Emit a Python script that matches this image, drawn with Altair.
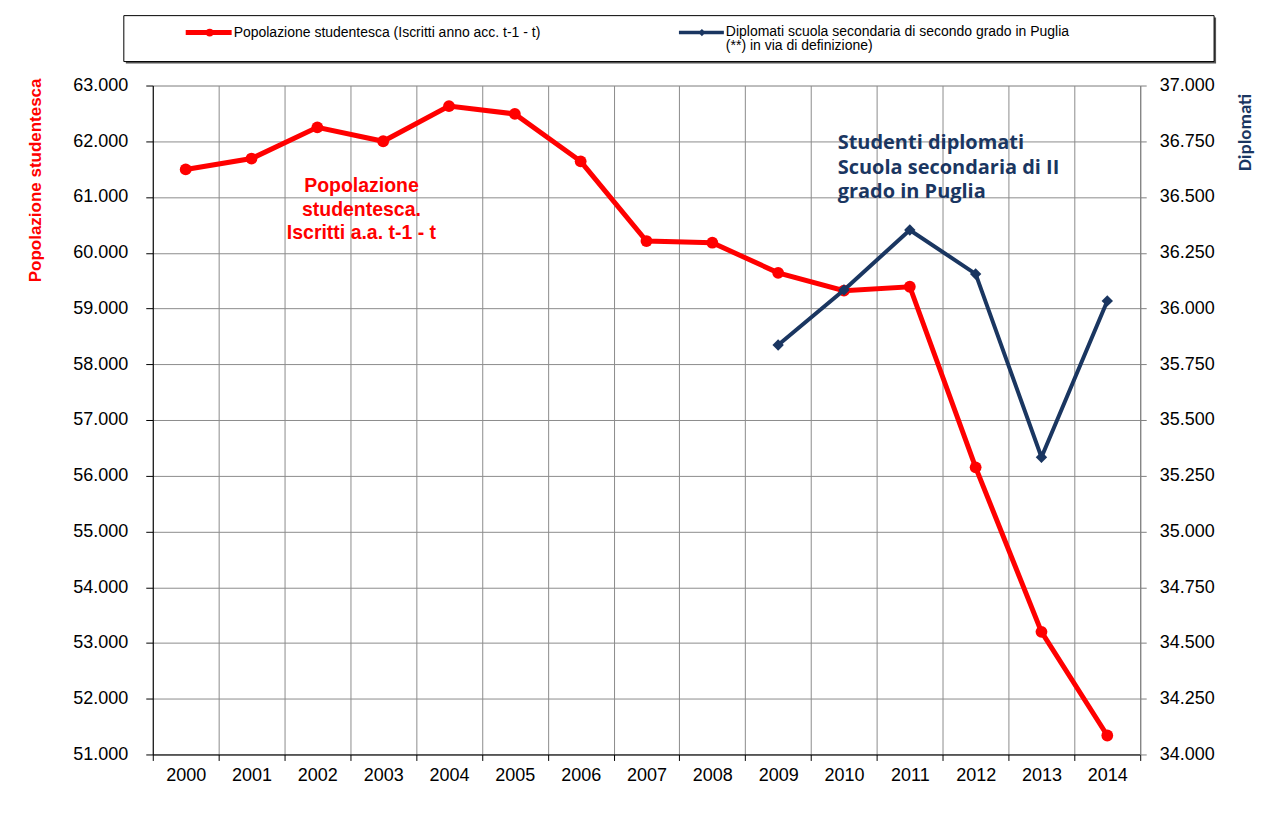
import altair as alt
import pandas as pd

# ---- data ----
anni = ["2000", "2001", "2002", "2003", "2004", "2005", "2006", "2007",
        "2008", "2009", "2010", "2011", "2012", "2013", "2014"]
popolazione = [61495, 61690, 62250, 62000, 62630, 62490, 61640, 60210,
               60180, 59640, 59320, 59390, 56150, 53200, 51340]
anni_diplomati = ["2009", "2010", "2011", "2012", "2013", "2014"]
diplomati = [35836, 36083, 36352, 36155, 35333, 36034]

tick_pop = [51000, 52000, 53000, 54000, 55000, 56000, 57000, 58000,
            59000, 60000, 61000, 62000, 63000]
tick_dipl = [34000, 34250, 34500, 34750, 35000, 35250, 35500, 35750,
             36000, 36250, 36500, 36750, 37000]

legenda_pop = "Popolazione studentesca (Iscritti anno acc. t-1 - t)"
legenda_dipl = ["Diplomati scuola secondaria di secondo grado in Puglia",
                "(**) in via di definizione)"]
nota_pop = ["Popolazione", "studentesca.", "Iscritti a.a. t-1 - t"]
nota_dipl = ["Studenti diplomati", "Scuola secondaria di II", "grado in Puglia"]
titolo_sx = "Popolazione studentesca"
titolo_dx = "Diplomati"

RED = "#FF0000"
NAVY = "#1A3661"
GRID = "#8C8C8C"
FONT = "Liberation Sans"
FONT2 = "Carlito, Lato, Open Sans"
FONT3 = "Open Sans"

df_pop = pd.DataFrame({"anno": anni, "valore": popolazione})
df_dipl = pd.DataFrame({"anno": anni_diplomati, "valore": diplomati})
one = pd.DataFrame({"k": [0]})

label_expr = "replace(format(datum.value, ','), ',', '.')"

x_enc = alt.X(
    "anno:O",
    sort=anni,
    bandPosition=0.5,
    scale=alt.Scale(type="band", domain=anni, paddingInner=0, paddingOuter=0),
    axis=alt.Axis(
        title=None, labelAngle=0, labelFont=FONT, labelFontSize=18,
        labelColor="black", labelPadding=6, domainColor="black",
        tickColor="black", tickSize=6, tickBand="extent", grid=True,
        gridColor=GRID, gridWidth=1,
    ),
)

red = alt.Chart(df_pop).mark_line(
    color=RED, strokeWidth=5,
    point=alt.OverlayMarkDef(filled=True, color=RED, size=140, opacity=1),
).encode(
    x=x_enc,
    y=alt.Y(
        "valore:Q",
        scale=alt.Scale(domain=[51000, 63000], nice=False, zero=False),
        axis=alt.Axis(
            title=None, values=tick_pop, labelExpr=label_expr,
            labelFont=FONT, labelFontSize=18, labelColor="black",
            labelPadding=18, domainColor="black", tickColor="black",
            tickSize=7, grid=True, gridColor=GRID, gridWidth=1,
        ),
    ),
)

blue = alt.Chart(df_dipl).mark_line(
    color=NAVY, strokeWidth=4,
    point=alt.OverlayMarkDef(shape="diamond", filled=True, color=NAVY,
                             size=130, opacity=1),
).encode(
    x=x_enc,
    y=alt.Y(
        "valore:Q",
        scale=alt.Scale(domain=[34000, 37000], nice=False, zero=False),
        axis=alt.Axis(
            title=None, orient="right", values=tick_dipl,
            labelExpr=label_expr, labelFont=FONT, labelFontSize=18,
            labelColor="black", labelPadding=13, domainColor="#808080",
            tickColor="#808080", tickSize=6, grid=False,
        ),
    ),
)

data_layer = alt.layer(red, blue).resolve_scale(y="independent")

# ---- legend (drawn) ----
base = alt.Chart(one)
leg_shadow = base.mark_rect(fill="#555555").encode(
    x=alt.value(-27), x2=alt.value(1065), y=alt.value(-68), y2=alt.value(-22))
leg_box = base.mark_rect(fill="white", stroke="black", strokeWidth=1).encode(
    x=alt.value(-29), x2=alt.value(1063), y=alt.value(-70), y2=alt.value(-24))
leg_red_line = base.mark_rule(color=RED, strokeWidth=5).encode(
    x=alt.value(33), x2=alt.value(79), y=alt.value(-53))
leg_red_pt = base.mark_point(shape="circle", filled=True, color=RED,
                             size=60, opacity=1).encode(
    x=alt.value(57), y=alt.value(-53))
leg_red_txt = base.mark_text(align="left", baseline="middle", font=FONT,
                             fontSize=14, color="black").encode(
    x=alt.value(81), y=alt.value(-53), text=alt.value(legenda_pop))
leg_blue_line = base.mark_rule(color=NAVY, strokeWidth=3.5).encode(
    x=alt.value(527), x2=alt.value(572), y=alt.value(-53))
leg_blue_pt = base.mark_point(shape="diamond", filled=True, color=NAVY,
                              size=50, opacity=1).encode(
    x=alt.value(550), y=alt.value(-53))
leg_blue_txt = base.mark_text(align="left", baseline="top", font=FONT,
                              fontSize=14, color="black", lineHeight=14).encode(
    x=alt.value(574), y=alt.value(-61), text=alt.value(legenda_dipl))

# ---- annotations ----
ann_pop = base.mark_text(align="center", baseline="alphabetic", font=FONT,
                         fontSize=19.5, fontWeight="bold", color=RED,
                         lineHeight=23.5).encode(
    x=alt.value(209), y=alt.value(107), text=alt.value(nota_pop))
ann_dipl = base.mark_text(align="left", baseline="alphabetic", font=FONT3,
                          fontSize=20, fontWeight="bold", color=NAVY,
                          lineHeight=24.5).encode(
    x=alt.value(686), y=alt.value(64), text=alt.value(nota_dipl))
title_l = base.mark_text(align="center", baseline="middle", angle=270,
                         font=FONT, fontSize=17, fontWeight="bold",
                         color=RED).encode(
    x=alt.value(-117), y=alt.value(95), text=alt.value(titolo_sx))
title_r = base.mark_text(align="center", baseline="middle", angle=270,
                         font=FONT2, fontSize=19, fontWeight="bold",
                         color=NAVY).encode(
    x=alt.value(1094), y=alt.value(47), text=alt.value(titolo_dx))

chart = alt.layer(
    data_layer,
    leg_shadow, leg_box, leg_red_line, leg_red_pt, leg_red_txt,
    leg_blue_line, leg_blue_pt, leg_blue_txt,
    ann_pop, ann_dipl, title_l, title_r,
).properties(
    width=989, height=670,
    autosize=alt.AutoSizeParams(type="none"),
    padding={"left": 145, "top": 77, "right": 130, "bottom": 60},
).configure_view(stroke=None).configure(background="white")

chart.save("out.html", embed_options={"renderer": "svg", "actions": False})
